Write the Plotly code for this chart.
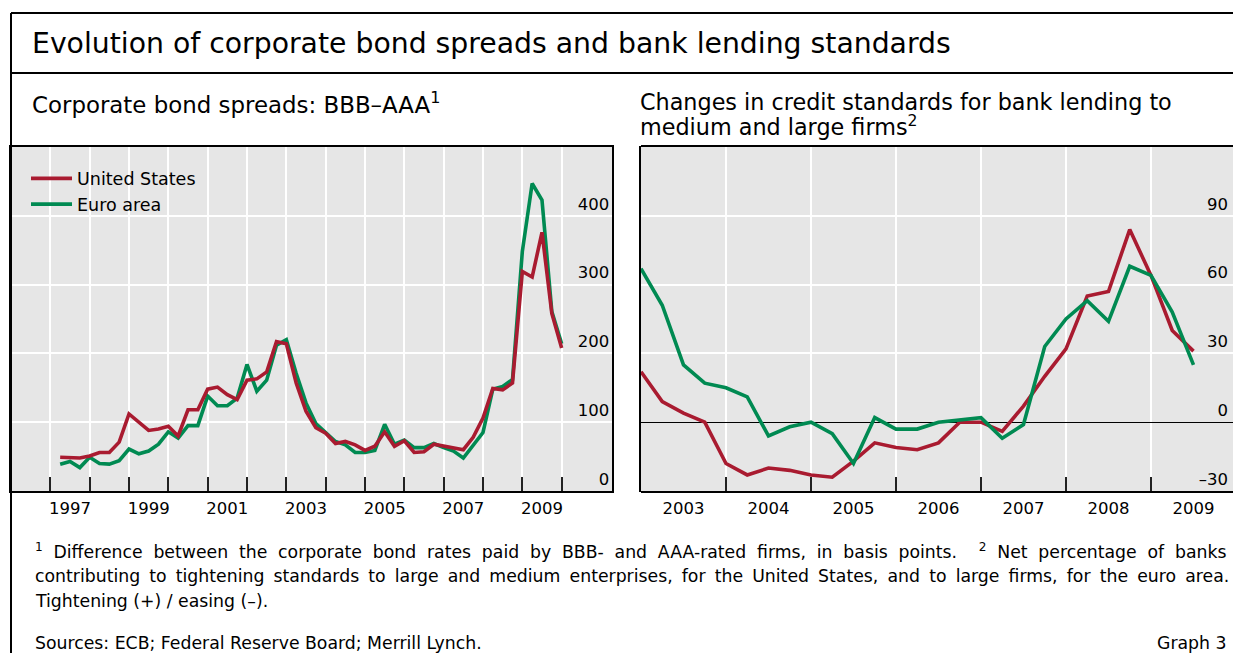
import plotly.graph_objects as go

W, H = 1233, 653


def px(x):
    return x / W


def py(y):
    return (H - y) / H


# ---------------- data ----------------
left_quarters = [f"{y}Q{q}" for y in range(1997, 2010) for q in range(1, 5)]
us_spread = [49, 48, 48, 51, 56, 56, 71, 112, 100, 88, 90, 94, 80, 118, 118, 148,
             151, 140, 133, 161, 163, 173, 217, 214, 157, 116,
             92, 84, 69, 72, 67, 59, 65, 86, 65, 73, 56, 57, 68, 65, 62, 60,
             78, 106, 149, 147, 157, 319, 311, 376, 258, 208]
ea_spread = [39, 43, 34, 49, 40, 39, 44, 61, 54, 58, 68, 86, 77, 95, 95, 138,
             124, 124, 135, 184, 145, 161, 212, 220, 171, 128,
             98, 85, 72, 67, 56, 56, 59, 97, 68, 74, 63, 63, 69, 63, 58, 48,
             67, 85, 148, 152, 162, 348, 447, 423, 261, 214]

right_quarters = (["2002Q4"] + [f"{y}Q{q}" for y in range(2003, 2009) for q in range(1, 5)]
                  + ["2009Q1", "2009Q2"])
us_standards = [22, 9, 4, 0, -18, -23, -20, -21, -23, -24, -17, -9, -11, -12,
                -9, 0, 0, -4, 7, 20, 32, 55, 57, 84, 64, 40, 31]
ea_standards = [67, 51, 25, 17, 15, 11, -6, -2, 0, -5, -18, 2, -3, -3,
                0, 1, 2, -7, -1, 33, 45, 53, 44, 68, 64, 48, 25]

left_label_years = [1997, 1999, 2001, 2003, 2005, 2007, 2009]
left_tick_years = list(range(1997, 2011))
right_label_years = [2003, 2004, 2005, 2006, 2007, 2008, 2009]
right_tick_years = list(range(2004, 2010))

left_y_ticks = [0, 100, 200, 300, 400]
left_y_text = ["0", "100", "200", "300", "400"]
right_y_ticks = [-30, 0, 30, 60, 90]
right_y_text = ["–30", "0", "30", "60", "90"]

RED = "#A91B30"
GREEN = "#008A52"
FONT = "DejaVu Sans"


def qpos(label):
    y, q = label.split("Q")
    return int(y) + int(q) / 4


xl = [qpos(q) for q in left_quarters]
xr = [qpos(q) for q in right_quarters]

fig = go.Figure()
fig.add_trace(go.Scatter(x=xl, y=ea_spread, mode="lines", name="Euro area",
                         line=dict(color=GREEN, width=3.6), legendrank=2,
                         xaxis="x", yaxis="y"))
fig.add_trace(go.Scatter(x=xl, y=us_spread, mode="lines", name="United States",
                         line=dict(color=RED, width=3.6), legendrank=1,
                         xaxis="x", yaxis="y"))
fig.add_trace(go.Scatter(x=xr, y=us_standards, mode="lines", name="United States",
                         line=dict(color=RED, width=3.6), showlegend=False,
                         xaxis="x2", yaxis="y2"))
fig.add_trace(go.Scatter(x=xr, y=ea_standards, mode="lines", name="Euro area",
                         line=dict(color=GREEN, width=3.6), showlegend=False,
                         xaxis="x2", yaxis="y2"))

tickfont = dict(family=FONT, size=16.5, color="black")
minor_common = dict(ticks="inside", ticklen=14, tickwidth=1.5, tickcolor="#222",
                    showgrid=True, gridcolor="white", gridwidth=2)

ydom = [py(491), py(147)]

fig.update_layout(
    width=W, height=H,
    margin=dict(l=0, r=0, t=0, b=0),
    paper_bgcolor="white",
    plot_bgcolor="#E6E6E6",
    font=dict(family=FONT, color="black"),
    showlegend=True,
    legend=dict(x=px(26), y=py(160.5), xanchor="left", yanchor="top",
                bgcolor="rgba(0,0,0,0)", font=dict(family=FONT, size=17.5),
                tracegroupgap=0, itemwidth=41),
    xaxis=dict(domain=[px(11), px(612)], range=[1996.0, 2011.28],
               tickmode="array", tickvals=[y + 0.5 for y in left_label_years],
               ticktext=[str(y) for y in left_label_years], ticks="",
               ticklabelstandoff=1,
               showgrid=False, zeroline=False, tickfont=tickfont,
               showline=True, linecolor="black", linewidth=2, mirror=True,
               minor=dict(tickvals=left_tick_years, **minor_common),
               anchor="y"),
    yaxis=dict(domain=ydom, range=[0, 500], side="right",
               tickmode="array", tickvals=left_y_ticks, ticktext=left_y_text,
               ticks="", ticklabelposition="inside", ticklabelshift=-12,
               ticklabeloverflow="allow", ticklabelstandoff=3,
               showgrid=True, gridcolor="white", gridwidth=2, zeroline=False,
               tickfont=tickfont, showline=True, linecolor="black",
               linewidth=2, mirror=True, anchor="x"),
    xaxis2=dict(domain=[px(641), 1.0], range=[2003.0, 2009.965],
                tickmode="array", tickvals=[y + 0.5 for y in right_label_years],
                ticktext=[str(y) for y in right_label_years], ticks="",
                ticklabelstandoff=1,
                showgrid=False, zeroline=False, tickfont=tickfont,
                showline=True, linecolor="black", linewidth=2, mirror=True,
                minor=dict(tickvals=right_tick_years, **minor_common),
                anchor="y2"),
    yaxis2=dict(domain=ydom, range=[-30, 120], side="right",
                tickmode="array", tickvals=right_y_ticks, ticktext=right_y_text,
                ticks="", ticklabelposition="inside", ticklabelshift=-12,
                ticklabeloverflow="allow", ticklabelstandoff=2,
                showgrid=True, gridcolor="white", gridwidth=2,
                zeroline=True, zerolinecolor="black", zerolinewidth=1,
                tickfont=tickfont, showline=False, anchor="x2"),
)

# outer frame and left edge of the right panel
frame = dict(color="black", width=2)
fig.add_shape(type="line", xref="paper", yref="paper", x0=px(11), x1=px(11),
              y0=py(13), y1=py(653), line=frame)
fig.add_shape(type="line", xref="paper", yref="paper", x0=px(11), x1=1.0,
              y0=py(13), y1=py(13), line=frame)
fig.add_shape(type="line", xref="paper", yref="paper", x0=px(11), x1=1.0,
              y0=py(73), y1=py(73), line=frame)
fig.add_shape(type="line", xref="paper", yref="paper", x0=px(640), x1=px(640),
              y0=py(146), y1=py(492), line=frame)


def text(x, y, s, size, anchor="left"):
    fig.add_annotation(x=px(x), y=py(y), xref="paper", yref="paper", text=s,
                       showarrow=False, xanchor=anchor, yanchor="middle",
                       font=dict(family=FONT, size=size, color="black"))


text(30, 43, "Evolution of corporate bond spreads and bank lending standards", 28.3)
text(30, 103, "Corporate bond spreads: BBB–AAA<sup>1</sup>", 22.9)
text(638, 102, "Changes in credit standards for bank lending to", 22.3)
text(638, 126, "medium and large firms<sup>2</sup>", 22.3)

fs = 17.3
text(33, 551, '<span style="word-spacing:5.3px"><sup>1</sup> Difference between the corporate bond rates paid by BBB- and AAA-rated firms, in basis points.  <sup>2</sup> Net percentage of banks</span>', fs)
text(33, 576, '<span style="word-spacing:3.65px">contributing to tightening standards to large and medium enterprises, for the United States, and to large firms, for the euro area.</span>', fs)
text(33, 601, "Tightening (+) / easing (–).", fs)
text(33, 643, "Sources: ECB; Federal Reserve Board; Merrill Lynch.", fs)
text(1229, 643, "Graph 3", fs, "right")

fig.write_html("out.html",
               config={"displayModeBar": False},
               post_script="document.body.style.margin='0';"
                           "document.body.style.overflow='hidden';"
                           "document.documentElement.style.overflow='hidden';")
